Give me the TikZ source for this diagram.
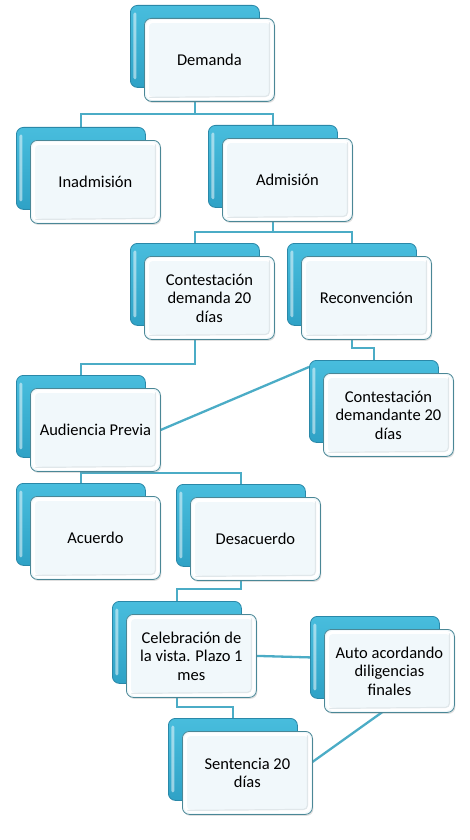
\documentclass[tikz,border=0pt]{standalone}
\usepackage{fontspec}
\setmainfont{Carlito}
\usetikzlibrary{backgrounds,calc,shadows}
\definecolor{conn}{HTML}{4BACC6}
\definecolor{backedge}{HTML}{2A88A8}
\definecolor{backtop}{HTML}{48BDDD}
\definecolor{backbot}{HTML}{2FA2C6}
\definecolor{frontedge}{HTML}{4A8796}
\definecolor{frontfill}{HTML}{F1F8FB}
\definecolor{bevel}{HTML}{E0E7EA}
\newcommand\mkbox[4]{%
  \node[backbox] (#1b) at (#2,#3) {};
  \node[frontbox] (#1) at ($(#1b.north west)+(14,13)$) {#4};
}
\begin{document}
\begin{tikzpicture}[x=1pt,y=-1pt,
  backbox/.style={draw=backedge, line width=0.8pt, rounded corners=7pt,
    top color=backtop, bottom color=backbot,
    minimum width=129pt, minimum height=82pt, inner sep=0pt, anchor=north west,
    path picture={
      \fill[white,opacity=0.5,rounded corners=1.5pt]
        ([shift={(3pt,-7pt)}]path picture bounding box.north west)
        rectangle ([shift={(6pt,8pt)}]path picture bounding box.south west);
    }},
  frontbox/.style={draw=frontedge, line width=0.8pt, rounded corners=7pt,
    fill=frontfill, minimum width=130pt, minimum height=83pt, inner sep=2pt,
    anchor=north west, align=center,
    font=\fontsize{16.5}{18.5}\selectfont,
    drop shadow={shadow xshift=1pt, shadow yshift=-1.5pt, opacity=0.25},
    path picture={
      \draw[white, line width=3pt, rounded corners=5pt]
        ([shift={(3pt,-3pt)}]path picture bounding box.north west)
        rectangle ([shift={(-3pt,3pt)}]path picture bounding box.south east);
      \draw[bevel, line width=1.2pt, rounded corners=4pt]
        ([shift={(5pt,4pt)}]path picture bounding box.south west)
        -- ([shift={(-5pt,5pt)}]path picture bounding box.south east)
        -- ([shift={(-5pt,-4pt)}]path picture bounding box.north east);
    }},
  link/.style={draw=conn, line width=2.3pt}]
\useasboundingbox (0,0) rectangle (469,840);

\mkbox{dem}{130}{5}{Demanda}
\mkbox{ina}{16}{127}{Inadmisión}
\mkbox{adm}{208}{125}{Admisión}
\mkbox{cd}{130}{243}{Contestación\\demanda 20\\días}
\mkbox{rec}{287}{243}{Reconvención}
\mkbox{cdd}{309}{360}{Contestación\\demandante 20\\días}
\mkbox{aud}{16}{375}{Audiencia Previa}
\mkbox{acu}{16}{483}{Acuerdo}
\mkbox{des}{176}{484}{Desacuerdo}
\mkbox{cel}{112}{601}{Celebración de\\la vista. Plazo 1\\mes}
\mkbox{aut}{310}{616}{Auto acordando\\diligencias\\finales}
\mkbox{sen}{168}{718}{Sentencia 20\\días}

\begin{pgfonlayer}{background}
  \draw[link] (demb.south) -- (demb.south |- 0,114) -| (inab.north);
  \draw[link] (demb.south) -- (demb.south |- 0,114) -| (admb.north);
  \draw[link] (admb.south) -- (admb.south |- 0,232) -| (cdb.north);
  \draw[link] (admb.south) -- (admb.south |- 0,232) -| (recb.north);
  \draw[link] (recb.south) -- (recb.south |- 0,348) -| (cddb.north);
  \draw[link] (cdb.south) -- (cdb.south |- 0,364) -| (audb.north);
  \draw[link] (aud.east) -- ($(cddb.north west)+(0,7)$);
  \draw[link] (audb.south) -- (audb.south |- 0,473) -| (acub.north);
  \draw[link] (audb.south) -- (audb.south |- 0,473) -| (desb.north);
  \draw[link] (desb.south) -- (desb.south |- 0,589) -| (celb.north);
  \draw[link] (cel.east) -- (autb.west);
  \draw[link] (celb.south) -- (celb.south |- 0,707) -| (senb.north);
  \draw[link] ($(autb.south)+(26,0)$) -- ($(senb.east)+(0,13)$);
\end{pgfonlayer}
\end{tikzpicture}
\end{document}
